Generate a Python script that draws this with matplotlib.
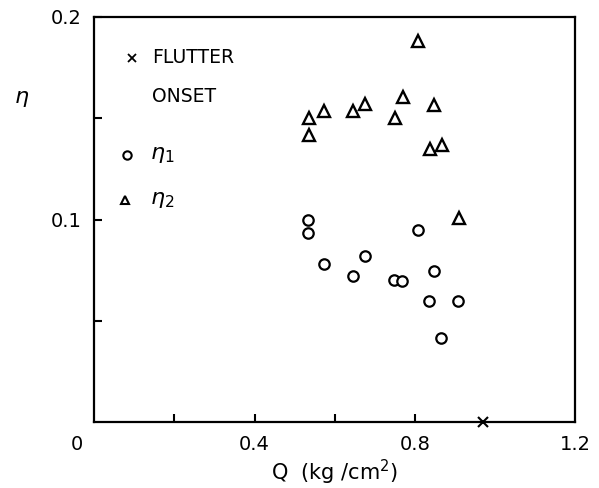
import matplotlib
matplotlib.use("Agg")
import matplotlib.pyplot as plt

# damping ratios vs dynamic pressure Q (kg/cm^2)
q_eta1 = [0.533, 0.533, 0.807, 0.675, 0.574, 0.645, 0.749, 0.769, 0.848, 0.835, 0.908, 0.865]
eta1 = [0.100, 0.0935, 0.095, 0.082, 0.078, 0.072, 0.070, 0.0696, 0.0746, 0.060, 0.060, 0.0416]

q_eta2 = [0.808, 0.770, 0.676, 0.646, 0.574, 0.535, 0.750, 0.849, 0.535, 0.837, 0.869, 0.910]
eta2 = [0.188, 0.1606, 0.157, 0.1536, 0.1536, 0.1503, 0.1503, 0.1565, 0.1417, 0.1347, 0.1368, 0.1006]

q_flutter = [0.971]
eta_flutter = [0.0]

x_ticks = [0.2, 0.4, 0.6, 0.8]
x_labels = ["", "0.4", "", "0.8"]
y_ticks = [0.05, 0.1, 0.15, 0.2]
y_labels = ["", "0.1", "", "0.2"]

fig = plt.figure(figsize=(5.99, 4.88), dpi=100)
ax = fig.add_axes([0.1574, 0.1352, 0.8026, 0.83])

ax.plot(q_eta2, eta2, linestyle="none", marker="^", ms=8, mfc="white",
        mec="black", mew=1.7)
ax.plot(q_eta1, eta1, linestyle="none", marker="o", ms=7.5, mfc="white",
        mec="black", mew=1.6)
ax.plot(q_flutter, eta_flutter, linestyle="none", marker="x", ms=7,
        color="black", mew=1.5, clip_on=False, zorder=5)

ax.set_xlim(0, 1.2)
ax.set_ylim(0, 0.2)

for s in ax.spines.values():
    s.set_linewidth(1.6)

ax.set_xticks(x_ticks)
ax.set_xticklabels(x_labels)
ax.set_yticks(y_ticks)
ax.set_yticklabels(y_labels)
ax.tick_params(direction="in", length=6, width=1.5, labelsize=14, pad=9)

# extra tick labels at the origin and right end of Q axis
ax.text(-0.043, -0.0066, "0", ha="center", va="top", fontsize=14)
ax.text(1.2, -0.0066, "1.2", ha="center", va="top", fontsize=14)

ax.text(-0.18, 0.1595, r"$\eta$", fontsize=16, ha="center", va="center")
ax.set_xlabel(r"Q  (kg /cm$^2$)", fontsize=15, labelpad=3)

# hand-placed key
ax.plot([0.0935], [0.1798], marker="x", ms=5.5, color="black", mew=1.3)
ax.text(0.144, 0.1798, "FLUTTER", fontsize=13.5, va="center")
ax.text(0.144, 0.1605, "ONSET", fontsize=13.5, va="center")
ax.plot([0.081], [0.1318], marker="o", ms=6, mfc="white", mec="black", mew=1.5)
ax.text(0.140, 0.1318, r"$\eta_1$", fontsize=16, va="center")
ax.plot([0.077], [0.1095], marker="^", ms=6, mfc="white", mec="black", mew=1.5)
ax.text(0.140, 0.1095, r"$\eta_2$", fontsize=16, va="center")

fig.savefig("out.png", dpi=100)
